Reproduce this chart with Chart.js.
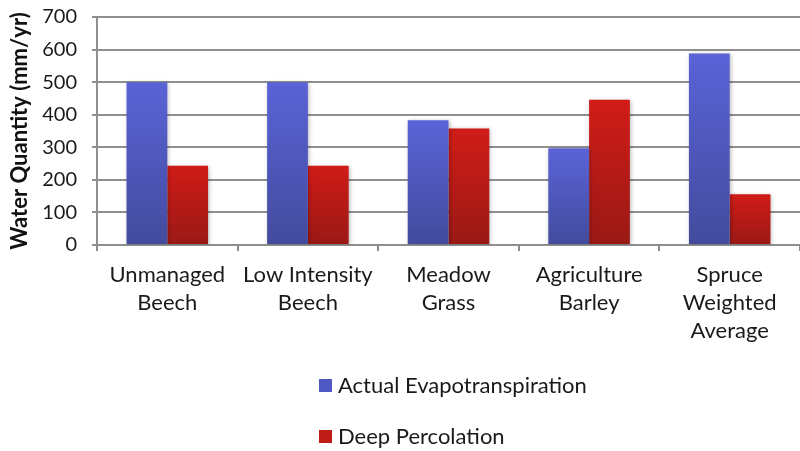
<!DOCTYPE html>
<html>
<head>
<meta charset="utf-8">
<script src="https://cdn.jsdelivr.net/npm/chart.js@4/dist/chart.umd.min.js"></script>
<style>
  html, body { margin: 0; padding: 0; background: #fff; }
  #wrap { position: relative; width: 800px; height: 451px; }
</style>
</head>
<body>
<div id="wrap"><canvas id="c" width="800" height="451"></canvas></div>
<script>
// Land-use categories (multi-line labels)
const categories = [
  ['Unmanaged', 'Beech'],
  ['Low Intensity', 'Beech'],
  ['Meadow', 'Grass'],
  ['Agriculture', 'Barley'],
  ['Spruce', 'Weighted', 'Average']
];
// Annual water quantities (mm/yr)
const evapotranspiration = [500, 500, 383, 297, 588];
const deepPercolation = [243, 243, 358, 446, 156];
const seriesNames = ['Actual Evapotranspiration', 'Deep Percolation'];
const yTicks = [0, 100, 200, 300, 400, 500, 600, 700];

const FONT = 'Lato, "Open Sans", sans-serif';

// Vertical gradient per bar, from its top down to the baseline
function barGradient(top, bottom) {
  return ctx => {
    const chart = ctx.chart;
    if (!chart.chartArea || ctx.type !== 'data') return top;
    const ys = chart.scales.y;
    const y0 = ys.getPixelForValue(0);
    const y1 = ys.getPixelForValue(ctx.parsed.y);
    const g = chart.ctx.createLinearGradient(0, y1, 0, y0);
    g.addColorStop(0, top);
    g.addColorStop(1, bottom);
    return g;
  };
}

// Soft drop shadow under the bars
const barShadow = {
  id: 'barShadow',
  beforeDatasetDraw(chart) {
    const c = chart.ctx;
    c.save();
    c.shadowColor = 'rgba(0,0,0,0.28)';
    c.shadowBlur = 4;
    c.shadowOffsetX = 1;
    c.shadowOffsetY = 1;
  },
  afterDatasetDraw(chart) {
    chart.ctx.restore();
  }
};

// Stacked legend under the axis labels
const stackedLegend = {
  id: 'stackedLegend',
  afterDraw(chart) {
    const c = chart.ctx;
    c.save();
    const rows = [386, 437];
    chart.data.datasets.forEach((ds, i) => {
      const y = rows[i];
      c.fillStyle = ds.legendColor;
      c.fillRect(319, y - 7, 13, 13);
      c.fillStyle = '#1a1a1a';
      c.font = '22px ' + FONT;
      c.textBaseline = 'middle';
      c.textAlign = 'left';
      c.fillText(ds.label, 338, y);
    });
    c.restore();
  }
};

new Chart(document.getElementById('c'), {
  type: 'bar',
  data: {
    labels: categories,
    datasets: [
      {
        label: seriesNames[0],
        data: evapotranspiration,
        backgroundColor: barGradient('#5a63d7', '#434b9d'),
        legendColor: '#5058c4'
      },
      {
        label: seriesNames[1],
        data: deepPercolation,
        backgroundColor: barGradient('#d11c18', '#9a1915'),
        legendColor: '#bf1c18'
      }
    ]
  },
  options: {
    responsive: false,
    animation: false,
    devicePixelRatio: 1,
    layout: { padding: { top: 17, right: 0, bottom: 0, left: 0 } },
    datasets: { bar: { barPercentage: 1, categoryPercentage: 0.58 } },
    plugins: {
      legend: { display: false },
      tooltip: { enabled: false }
    },
    scales: {
      x: {
        grid: {
          offset: true,
          drawOnChartArea: false,
          color: '#8c8c8c',
          lineWidth: 2,
          tickLength: 6
        },
        border: { display: false },
        ticks: {
          color: '#1a1a1a',
          font: { family: FONT, size: 22, lineHeight: '28px' },
          padding: 10,
          maxRotation: 0,
          autoSkip: false
        },
        afterFit(scale) {
          scale.height = 206;
          scale.paddingLeft = 0;
          scale.paddingRight = 0;
        }
      },
      y: {
        min: 0,
        max: 700,
        afterBuildTicks(scale) { scale.ticks = yTicks.map(v => ({ value: v })); },
        grid: {
          color: '#8f8f8f',
          lineWidth: 2,
          tickLength: 5
        },
        border: { display: true, color: '#8f8f8f', width: 2 },
        ticks: {
          color: '#1a1a1a',
          font: { family: FONT, size: 20 },
          padding: 15
        },
        title: {
          display: true,
          text: 'Water Quantity (mm/yr)',
          color: '#111',
          font: { family: FONT, size: 22, weight: 'bold' },
          padding: { top: 7, bottom: 2 }
        },
        afterFit(scale) {
          scale.width = 97;
          scale.paddingTop = 0;
          scale.paddingBottom = 0;
        }
      }
    }
  },
  plugins: [barShadow, stackedLegend]
});
</script>
</body>
</html>
